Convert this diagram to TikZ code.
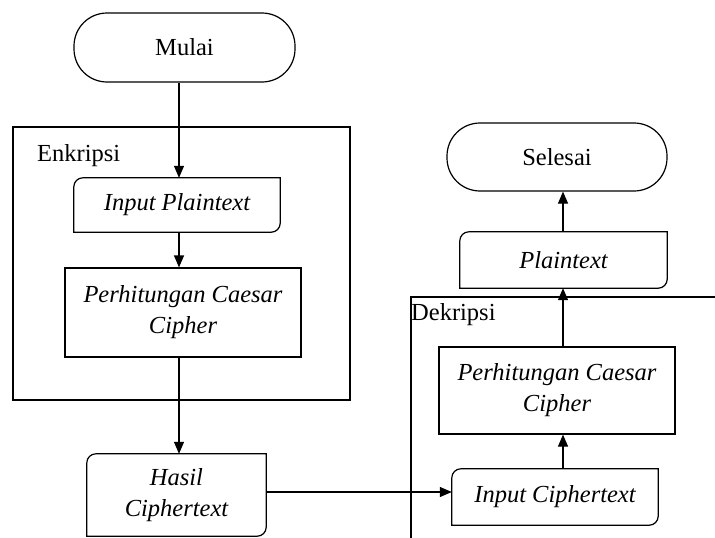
\documentclass[tikz,border=0pt]{standalone}
\usepackage{fontspec}
\setmainfont{Liberation Serif}
\usetikzlibrary{arrows.meta}
\newcommand{\ioshapedraw}[1]{%
  \draw[line] ([yshift=-9pt]#1.north west) arc[start angle=180,end angle=90,radius=9pt]
    -- (#1.north east) -- ([yshift=9pt]#1.south east)
    arc[start angle=0,end angle=-90,radius=9pt] -- (#1.south west) -- cycle;}
\begin{document}
\begin{tikzpicture}[x=1pt,y=-1pt,
  line/.style={line width=1.2pt,black},
  arr/.style={line,-{Triangle[length=12pt,width=10pt]}},
  txt/.style={font=\fontsize{24.5}{31}\selectfont,align=center,inner sep=0pt},
  term/.style={txt,draw,line width=1.2pt,rounded corners=33pt},
  proc/.style={txt,draw,line width=1.2pt},
  io/.style={txt},
  frame/.style={line}]
\useasboundingbox (0,0) rectangle (715,538);
% frames
\draw[frame] (13,127) rectangle (350,400);
\node[txt,anchor=base west] (enk) at (37,161) {Enkripsi};
\coordinate (dk1) at (411,538);
\coordinate (dk2) at (411,297);
\coordinate (dk3) at (715,297);
\draw[frame] (dk1) -- (dk2) -- (dk3);
\node[txt,anchor=base west] (dek) at (411,320) {Dekripsi};
% nodes
\node[term,minimum width=221pt,minimum height=69pt] (mulai) at (184.5,47.5) {Mulai};
\node[io,minimum width=206pt,minimum height=54pt] (inplain) at (177,205) {\itshape Input Plaintext};
\ioshapedraw{inplain}
\node[proc,minimum width=236pt,minimum height=89pt] (perhL) at (183,312.5) {\itshape Perhitungan Caesar\\\itshape Cipher};
\node[io,minimum width=179pt,minimum height=82pt] (hasil) at (176.5,495) {\itshape Hasil\\\itshape Ciphertext};
\ioshapedraw{hasil}
\node[io,minimum width=206pt,minimum height=56pt] (incipher) at (555,497) {\itshape Input Ciphertext};
\ioshapedraw{incipher}
\node[proc,minimum width=236pt,minimum height=87pt] (perhR) at (557,390.5) {\itshape Perhitungan Caesar\\\itshape Cipher};
\node[io,minimum width=207pt,minimum height=56pt] (plain) at (563.5,260) {\itshape Plaintext};
\ioshapedraw{plain}
\node[term,minimum width=220pt,minimum height=68pt] (selesai) at (557,157) {Selesai};
% connectors
\coordinate (cl) at (179,0);
\coordinate (cr) at (563,0);
\coordinate (ch) at (0,492);
\draw[arr] (mulai.south -| cl) -- (inplain.north -| cl);
\draw[arr] (inplain.south -| cl) -- (perhL.north -| cl);
\draw[arr] (perhL.south -| cl) -- (hasil.north -| cl);
\draw[arr] (hasil.east |- ch) -- (incipher.west |- ch);
\draw[arr] (incipher.north -| cr) -- (perhR.south -| cr);
\draw[arr] (perhR.north -| cr) -- (plain.south -| cr);
\draw[arr] (plain.north -| cr) -- (selesai.south -| cr);
\end{tikzpicture}
\end{document}
